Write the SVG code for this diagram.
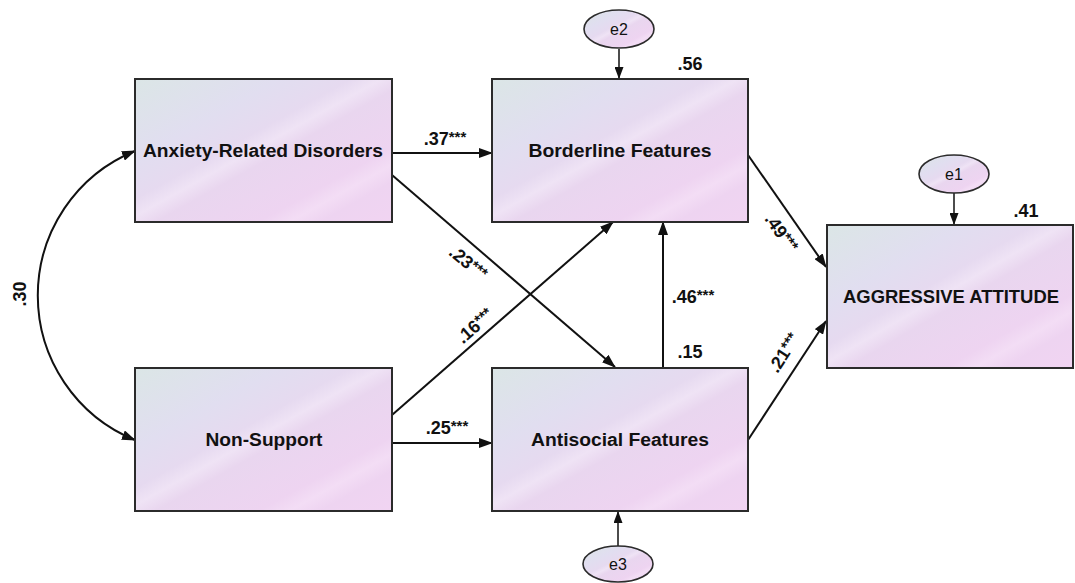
<svg xmlns="http://www.w3.org/2000/svg" width="1075" height="583" viewBox="0 0 1075 583">
<style>
.box{stroke:#2b2b2b;stroke-width:2;fill:url(#g)}
.ell{stroke:#2b2b2b;stroke-width:1.6;fill:url(#g)}
.lbl{font-family:"Liberation Sans",Arial,sans-serif;font-weight:bold;font-size:18px;fill:#111;text-anchor:middle}
.elbl{font-family:"Liberation Sans",Arial,sans-serif;font-size:16px;fill:#111;text-anchor:middle}
.num{font-family:"Liberation Sans",Arial,sans-serif;font-weight:bold;font-size:18px;fill:#111;text-anchor:middle}
.ast{font-size:15px}
.ln{stroke:#111;stroke-width:2;fill:none;marker-end:url(#ah)}
.lns{stroke:#111;stroke-width:1.5;fill:none;marker-end:url(#ahs)}
</style>
<defs>
<linearGradient id="g" x1="0" y1="0" x2="1" y2="1">
<stop offset="0" stop-color="#dbe6e6"/>
<stop offset="0.28" stop-color="#e1def0"/>
<stop offset="0.42" stop-color="#e6daf0"/>
<stop offset="0.48" stop-color="#efe3f5"/>
<stop offset="0.54" stop-color="#e9d6ef"/>
<stop offset="0.74" stop-color="#eed4f1"/>
<stop offset="0.8" stop-color="#f3ddf5"/>
<stop offset="0.86" stop-color="#eed4f1"/>
<stop offset="1" stop-color="#f1d4f2"/>
</linearGradient>
<marker id="ah" markerWidth="14" markerHeight="10" refX="13" refY="5" orient="auto-start-reverse" markerUnits="userSpaceOnUse">
<path d="M0,0 L14,5 L0,10 z" fill="#111"/>
</marker>
<marker id="ahs" markerWidth="12" markerHeight="9" refX="12" refY="4.5" orient="auto" markerUnits="userSpaceOnUse">
<path d="M0,0 L12,4.5 L0,9 z" fill="#111"/>
</marker>
</defs>
<rect width="1075" height="583" fill="#ffffff"/>

<g id="connectors">
<path class="ln" d="M135,151 A156,156 0 0,0 135,440" style="marker-start:url(#ah)"/>
<line class="ln" x1="392" y1="153" x2="492" y2="153"/>
<line class="ln" x1="392" y1="175" x2="615" y2="367"/>
<line class="ln" x1="392" y1="415" x2="613" y2="222"/>
<line class="ln" x1="392" y1="443" x2="492" y2="443"/>
<line class="ln" x1="663" y1="368" x2="663" y2="222"/>
<line class="ln" x1="748" y1="155" x2="826" y2="267"/>
<line class="ln" x1="748" y1="440" x2="826" y2="321"/>
<line class="lns" x1="619" y1="49" x2="619" y2="79"/>
<line class="lns" x1="954" y1="193" x2="954" y2="225"/>
<line class="lns" x1="618" y1="546" x2="618" y2="511"/>
</g>

<g id="anxiety">
<rect class="box" x="135" y="79" width="257" height="143"/>
<text class="lbl" x="263" y="157" textLength="240" lengthAdjust="spacingAndGlyphs">Anxiety-Related Disorders</text>
</g>
<g id="nonsupport">
<rect class="box" x="135" y="368" width="257" height="143"/>
<text class="lbl" x="264" y="446" textLength="117" lengthAdjust="spacingAndGlyphs">Non-Support</text>
</g>
<g id="borderline">
<rect class="box" x="492" y="79" width="256" height="143"/>
<text class="lbl" x="620" y="157" textLength="183" lengthAdjust="spacingAndGlyphs">Borderline Features</text>
</g>
<g id="antisocial">
<rect class="box" x="492" y="368" width="256" height="143"/>
<text class="lbl" x="620" y="446" textLength="178" lengthAdjust="spacingAndGlyphs">Antisocial Features</text>
</g>
<g id="aggressive">
<rect class="box" x="827" y="225" width="246" height="143"/>
<text class="lbl" x="951" y="303" textLength="216" lengthAdjust="spacingAndGlyphs">AGGRESSIVE ATTITUDE</text>
</g>
<g id="e2">
<ellipse class="ell" cx="619" cy="29" rx="35" ry="19"/>
<text class="elbl" x="619" y="35">e2</text>
</g>
<g id="e1">
<ellipse class="ell" cx="954" cy="174" rx="35" ry="19"/>
<text class="elbl" x="954" y="180">e1</text>
</g>
<g id="e3">
<ellipse class="ell" cx="618" cy="564" rx="35" ry="18"/>
<text class="elbl" x="618" y="570">e3</text>
</g>

<g id="labels">
<text class="num" x="690" y="70">.56</text>
<text class="num" x="1026" y="217">.41</text>
<text class="num" x="690" y="358">.15</text>
<text class="num" x="445" y="145">.37<tspan class="ast" dy="-3">***</tspan></text>
<text class="num" x="447" y="434">.25<tspan class="ast" dy="-3">***</tspan></text>
<text class="num" x="693" y="303">.46<tspan class="ast" dy="-3">***</tspan></text>
<text class="num" x="468" y="269" transform="rotate(40 468 263)">.23<tspan class="ast" dy="-3">***</tspan></text>
<text class="num" x="475" y="332" transform="rotate(-41 475 326)">.16<tspan class="ast" dy="-3">***</tspan></text>
<text class="num" x="784" y="359" transform="rotate(-57 784 353)">.21<tspan class="ast" dy="-3">***</tspan></text>
<text class="num" x="781" y="239" transform="rotate(55 781 233)">.49<tspan class="ast" dy="-3">***</tspan></text>
<text class="num" x="20" y="300" transform="rotate(-90 20 294)">.30</text>
</g>
</svg>
